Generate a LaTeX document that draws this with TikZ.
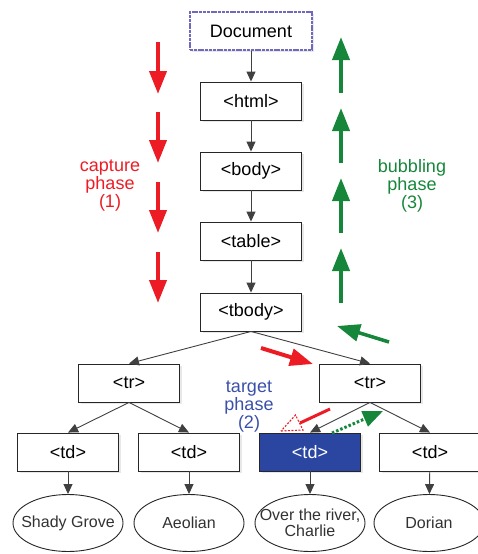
\documentclass[tikz,border=0pt]{standalone}
\usepackage{fontspec}
\setmainfont{Liberation Sans}
\usetikzlibrary{arrows.meta,shapes.geometric,shadows}
\definecolor{capred}{RGB}{237,28,36}
\definecolor{bubgreen}{RGB}{22,135,58}
\definecolor{tgtblue}{RGB}{58,80,170}
\definecolor{tdfill}{RGB}{42,70,160}
\definecolor{docborder}{RGB}{110,105,190}
\definecolor{ellipsetext}{RGB}{50,50,50}
\tikzset{
  elbox/.style={draw=black!85, line width=0.9pt, fill=white, minimum width=101pt, minimum height=38pt,
    inner sep=0pt, font=\fontsize{18}{18}\selectfont,
    drop shadow={opacity=0.18, shadow xshift=2pt, shadow yshift=-2pt}},
  leaf/.style={draw=black!85, line width=0.9pt, ellipse, fill=white, minimum width=110pt, minimum height=57pt,
    inner xsep=-16pt, inner ysep=0pt, align=center, text=ellipsetext, font=\fontsize{16}{16.5}\selectfont},
  conn/.style={draw=black!75, line width=0.9pt, -{Triangle[width=9pt,length=10pt]}},
  bigred/.style={draw=capred, line width=4pt, -{Triangle[width=17pt,length=23pt]}},
  biggreen/.style={draw=bubgreen, line width=4pt, -{Triangle[width=17pt,length=23pt]}},
  phasetext/.style={align=center, font=\fontsize{18}{18}\selectfont}
}
\begin{document}
\begin{tikzpicture}[x=1pt,y=-1pt]
\useasboundingbox (0,0) rectangle (478,554);

% tree nodes
\node[elbox, draw=docborder, line width=1.6pt, dash pattern=on 3pt off 0.8pt, minimum width=122pt] (doc) at (251,31) {Document};
\node[elbox] (html) at (251,101) {<html>};
\node[elbox] (body) at (251,171) {<body>};
\node[elbox] (table) at (251,241) {<table>};
\node[elbox] (tbody) at (251,312) {<tbody>};
\node[elbox] (trL) at (129,383) {<tr>};
\node[elbox] (trR) at (370,383) {<tr>};
\node[elbox] (td1) at (68,452) {<td>};
\node[elbox] (td2) at (189,452) {<td>};
\node[elbox, fill=tdfill, text=white] (td3) at (310,452) {<td>};
\node[elbox] (td4) at (430,452) {<td>};
\node[leaf] (l1) at (68,523) {Shady Grove};
\node[leaf] (l2) at (189,523) {Aeolian};
\node[leaf] (l3) at (310,523) {Over the river,\\Charlie};
\node[leaf] (l4) at (429,523) {Dorian};

% connectors
\draw[conn] (doc) -- (html);
\draw[conn] (html) -- (body);
\draw[conn] (body) -- (table);
\draw[conn] (table) -- (tbody);
\draw[conn] (tbody.south) -- (trL.north);
\draw[conn] (tbody.south) -- (trR.north);
\draw[conn] (trL.south) -- (td1.north);
\draw[conn] (trL.south) -- (td2.north);
\draw[conn] (trR.south) -- (td3.north);
\draw[conn] (trR.south) -- (td4.north);
\draw[conn] (td1) -- (l1);
\draw[conn] (td2) -- (l2);
\draw[conn] (td3) -- (l3);
\draw[conn] (td4) -- (l4);

% capture phase arrows
\coordinate (r1a) at (158,42);  \coordinate (r1b) at (158,94);
\coordinate (r2a) at (158,112); \coordinate (r2b) at (158,163);
\coordinate (r3a) at (158,182); \coordinate (r3b) at (158,233);
\coordinate (r4a) at (158,252); \coordinate (r4b) at (158,303);
\draw[bigred] (r1a) -- (r1b);
\draw[bigred] (r2a) -- (r2b);
\draw[bigred] (r3a) -- (r3b);
\draw[bigred] (r4a) -- (r4b);
\coordinate (r5a) at (261,348); \coordinate (r5b) at (313,364);
\draw[bigred] (r5a) -- (r5b);

% bubbling phase arrows
\coordinate (g1a) at (341,93);  \coordinate (g1b) at (341,37);
\coordinate (g2a) at (341,163); \coordinate (g2b) at (341,108);
\coordinate (g3a) at (341,233); \coordinate (g3b) at (341,178);
\coordinate (g4a) at (341,303); \coordinate (g4b) at (341,248);
\draw[biggreen] (g1a) -- (g1b);
\draw[biggreen] (g2a) -- (g2b);
\draw[biggreen] (g3a) -- (g3b);
\draw[biggreen] (g4a) -- (g4b);
\coordinate (g5a) at (389,342); \coordinate (g5b) at (337,326);
\draw[biggreen, line width=3.5pt] (g5a) -- (g5b);

% target phase arrows
\coordinate (t1a) at (330,409); \coordinate (t1b) at (300,423);
\draw[capred, line width=3pt] (t1a) -- (t1b);
\coordinate (th1) at (281,431); \coordinate (th2) at (303,430); \coordinate (th3) at (295.5,415);
\draw[capred, line width=1.1pt, dash pattern=on 2pt off 1.5pt, fill=white] (th1) -- (th2) -- (th3) -- cycle;
\coordinate (t2a) at (332,433); \coordinate (t2b) at (383,411);
\draw[draw=bubgreen, line width=3pt, dash pattern=on 2.5pt off 2pt, -{Triangle[width=16pt,length=20pt]}] (t2a) -- (t2b);

% phase labels
\node[phasetext, text=capred] (cap) at (110,186) {capture\\phase\\(1)};
\node[phasetext, text=bubgreen] (bub) at (412,186) {bubbling\\phase\\(3)};
\node[phasetext, text=tgtblue] (tgt) at (249,407) {target\\phase\\(2)};
\end{tikzpicture}
\end{document}
